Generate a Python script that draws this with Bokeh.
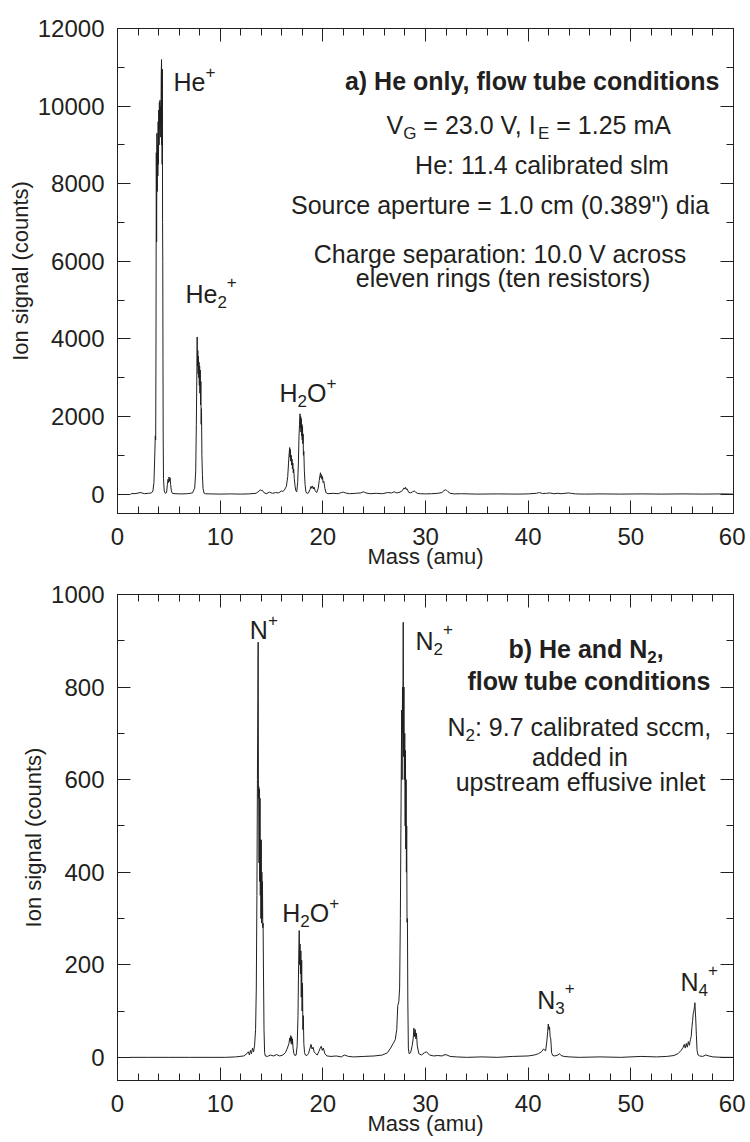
from bokeh.plotting import figure
from bokeh.models import (Range1d, LinearAxis, FixedTicker, Label,
                          ColumnDataSource, CustomJSTickFormatter)
from bokeh.layouts import column
from bokeh.embed import file_html
from bokeh.resources import INLINE

FONT = "Liberation Sans"
INK = "#231f20"

# ---------------- data ----------------
# panel a: He only
mass_a = [
    1.3, 1.8, 2.2, 2.4, 2.6, 3.0, 3.3, 3.45, 3.55, 3.62,
    3.68, 3.72, 3.75, 3.78, 3.81, 3.84, 3.87, 3.9, 3.93, 3.96,
    3.99, 4.02, 4.05, 4.08, 4.11, 4.14, 4.17, 4.2, 4.23, 4.26,
    4.29, 4.31, 4.33, 4.35, 4.37, 4.39, 4.41, 4.43, 4.45, 4.48,
    4.55, 4.65, 4.78, 4.86, 4.92, 4.97, 5.02, 5.07, 5.12, 5.17,
    5.25, 5.35, 5.6, 6.2, 6.8, 7.3, 7.52, 7.62, 7.68, 7.73,
    7.76, 7.79, 7.82, 7.85, 7.88, 7.91, 7.94, 7.97, 8.0, 8.03,
    8.06, 8.09, 8.12, 8.15, 8.18, 8.22, 8.27, 8.33, 8.42, 8.55,
    9.0, 10.0, 11.0, 12.0, 12.8, 13.5, 13.8, 13.9, 14.0, 14.1,
    14.25, 14.5, 14.8, 15.1, 15.4, 15.7, 15.95, 16.1, 16.25, 16.45,
    16.58, 16.66, 16.72, 16.77, 16.8, 16.84, 16.88, 16.92, 16.96, 17.0,
    17.04, 17.08, 17.12, 17.16, 17.22, 17.3, 17.38, 17.46, 17.55, 17.62,
    17.68, 17.73, 17.78, 17.81, 17.84, 17.87, 17.9, 17.93, 17.96, 17.99,
    18.02, 18.05, 18.08, 18.11, 18.15, 18.2, 18.27, 18.35, 18.45, 18.6,
    18.75, 18.85, 18.92, 19.0, 19.08, 19.15, 19.25, 19.4, 19.55, 19.65,
    19.72, 19.77, 19.82, 19.87, 19.92, 19.97, 20.02, 20.1, 20.2, 20.3,
    20.5, 21.0, 21.5, 21.8, 22.0, 22.2, 22.6, 23.2, 23.7, 23.95,
    24.2, 24.6, 25.2, 25.8, 26.3, 26.7, 26.95, 27.2, 27.5, 27.75,
    27.9, 27.98, 28.05, 28.12, 28.2, 28.35, 28.55, 28.75, 28.9, 29.05,
    29.2, 29.5, 30.0, 30.6, 31.2, 31.6, 31.8, 31.95, 32.05, 32.2,
    32.4, 32.8, 33.5, 35.0, 37.0, 39.0, 40.0, 40.8, 41.1, 41.4,
    41.8, 42.1, 42.5, 42.9, 43.2, 43.6, 43.9, 44.2, 44.6, 45.5,
    47.0, 49.0, 51.0, 53.0, 55.0, 57.0, 59.0, 60.0,
]
counts_a = [
    10, 15, 40, 30, 10, 20, 30, 80, 300, 900,
    1500, 1400, 4000, 8800, 6500, 9300, 7800, 9000, 8200, 9600,
    8500, 9900, 9000, 10100, 9400, 10150, 9200, 10000, 9500, 10800,
    11200, 9000, 10900, 8500, 10950, 7000, 6000, 3500, 1500, 400,
    80, 20, 40, 250, 380, 300, 440, 330, 420, 250,
    80, 20, 10, 5, 10, 30, 150, 600, 1800, 3200,
    4050, 3300, 3700, 3100, 3550, 3000, 3400, 2800, 3300, 2600,
    3200, 2300, 2900, 1800, 2200, 1000, 500, 150, 30, 10,
    5, 0, 5, 0, 5, 20, 80, 110, 90, 100,
    40, 10, 50, 20, 40, 30, 80, 70, 100, 200,
    450, 800, 1050, 1200, 950, 1150, 850, 1000, 750, 900,
    650, 800, 550, 650, 400, 200, 80, 60, 300, 800,
    1500, 1800, 2070, 1700, 2000, 1600, 1950, 1500, 1800, 1400,
    1750, 1300, 1550, 1000, 1100, 600, 250, 60, 20, 30,
    120, 200, 150, 210, 130, 180, 90, 40, 150, 350,
    480, 550, 420, 500, 380, 450, 300, 330, 150, 40,
    10, 20, 10, 40, 50, 30, 10, 20, 30, 60,
    30, 10, 20, 10, 40, 30, 60, 30, 50, 90,
    160, 130, 175, 120, 140, 50, 30, 60, 80, 50,
    20, 10, 5, 10, 20, 40, 90, 110, 100, 60,
    20, 5, 10, 0, 5, 0, 5, 20, 40, 15,
    20, 30, 10, 20, 10, 20, 30, 20, 5, 0,
    5, 0, 5, 0, 5, 0, 5, 0,
]

# panel b: He and N2
mass_b = [
    1.2, 3.0, 5.0, 7.0, 9.0, 10.5, 11.5, 12.3, 12.6, 12.75,
    12.85, 12.95, 13.05, 13.15, 13.25, 13.35, 13.45, 13.52, 13.58, 13.63,
    13.67, 13.7, 13.73, 13.76, 13.79, 13.82, 13.85, 13.88, 13.91, 13.94,
    13.97, 14.0, 14.03, 14.06, 14.09, 14.12, 14.15, 14.18, 14.22, 14.27,
    14.33, 14.4, 14.6, 14.9, 15.2, 15.5, 15.8, 16.1, 16.35, 16.55,
    16.7, 16.78, 16.84, 16.88, 16.92, 16.96, 17.0, 17.04, 17.1, 17.18,
    17.28, 17.4, 17.5, 17.58, 17.64, 17.7, 17.74, 17.78, 17.82, 17.86,
    17.9, 17.94, 17.98, 18.02, 18.06, 18.1, 18.15, 18.22, 18.3, 18.45,
    18.6, 18.75, 18.85, 18.95, 19.05, 19.15, 19.3, 19.45, 19.6, 19.75,
    19.85, 19.95, 20.05, 20.2, 20.4, 20.8, 21.3, 21.8, 22.1, 22.5,
    23.0, 24.0, 25.0, 25.8, 26.3, 26.6, 26.85, 27.05, 27.2, 27.3,
    27.4, 27.48, 27.55, 27.62, 27.68, 27.72, 27.76, 27.8, 27.83, 27.86,
    27.9, 27.94, 27.98, 28.02, 28.05, 28.08, 28.11, 28.14, 28.17, 28.2,
    28.24, 28.28, 28.33, 28.4, 28.55, 28.7, 28.8, 28.87, 28.93, 29.0,
    29.06, 29.12, 29.2, 29.35, 29.6, 29.9, 30.1, 30.4, 30.8, 31.2,
    31.6, 31.9, 32.1, 32.4, 33.0, 34.0, 35.5, 37.0, 38.5, 40.0,
    40.6, 41.0, 41.3, 41.5, 41.7, 41.82, 41.9, 41.96, 42.02, 42.08,
    42.14, 42.2, 42.28, 42.4, 42.6, 42.9, 43.05, 43.2, 43.5, 44.0,
    45.0, 47.0, 49.0, 51.0, 52.5, 53.5, 54.2, 54.6, 54.9, 55.1,
    55.2, 55.3, 55.4, 55.5, 55.6, 55.7, 55.8, 55.88, 55.95, 56.02,
    56.08, 56.14, 56.2, 56.24, 56.28, 56.32, 56.38, 56.45, 56.55, 56.7,
    57.0, 57.3, 57.6, 58.0, 59.0, 60.0,
]
counts_b = [
    0, 0, 0, 0, 0, 0, 1, 3, 8, 12,
    5, 15, 8, 20, 12, 25, 60, 150, 350, 600,
    780, 897, 560, 585, 420, 580, 380, 560, 350, 470,
    300, 470, 290, 400, 300, 380, 280, 290, 180, 60,
    10, 3, 2, 5, 3, 6, 3, 5, 10, 20,
    30, 42, 35, 47, 30, 44, 28, 40, 20, 8,
    4, 5, 25, 90, 200, 274, 200, 245, 180, 230,
    130, 210, 100, 160, 60, 90, 30, 10, 5, 4,
    8, 20, 28, 18, 22, 12, 8, 5, 12, 20,
    24, 15, 20, 8, 3, 2, 3, 1, 5, 2,
    1, 2, 3, 5, 10, 20, 30, 38, 60, 112,
    120, 150, 300, 550, 750, 600, 800, 700, 940, 650,
    800, 600, 700, 500, 663, 450, 600, 400, 500, 292,
    300, 120, 20, 8, 10, 25, 40, 63, 45, 60,
    40, 52, 25, 8, 5, 10, 12, 5, 3, 4,
    3, 6, 5, 2, 1, 0, 1, 0, 2, 3,
    5, 8, 12, 18, 14, 35, 55, 72, 60, 66,
    45, 40, 10, 4, 3, 5, 8, 4, 2, 1,
    0, 1, 0, 2, 1, 2, 4, 8, 15, 22,
    28, 20, 30, 22, 34, 26, 38, 45, 65, 80,
    95, 100, 110, 118, 100, 85, 50, 15, 5, 3,
    2, 5, 3, 1, 0, 0,
]

x_ticks = [0, 10, 20, 30, 40, 50, 60]
x_minor = list(range(0, 61, 2))
ya_ticks = [0, 2000, 4000, 6000, 8000, 10000, 12000]
ya_minor = list(range(0, 12001, 1000))
yb_ticks = [0, 200, 400, 600, 800, 1000]
yb_minor = list(range(0, 1001, 100))

X_TITLE = "Mass (amu)"
Y_TITLE = "Ion signal (counts)"

# ---------------- text metrics (Arial / Liberation Sans) ----------------
W_REG = {' ': 278, '!': 278, '"': 355, '(': 333, ')': 333, '+': 584, ',': 278,
         '-': 333, '.': 278, ':': 278, '=': 584, 'A': 667, 'C': 722, 'E': 667,
         'G': 778, 'H': 722, 'I': 278, 'N': 722, 'O': 778, 'S': 667, 'V': 667,
         'a': 556, 'b': 556, 'c': 500, 'd': 556, 'e': 556, 'f': 278, 'g': 556,
         'h': 556, 'i': 222, 'l': 222, 'm': 833, 'n': 556, 'o': 556, 'p': 556,
         'r': 333, 's': 500, 't': 278, 'u': 556, 'v': 500, 'w': 722, 'y': 500}
W_BOLD = {' ': 278, ')': 333, ',': 278, 'H': 722, 'N': 722, 'a': 556, 'b': 611,
          'd': 611, 'e': 556, 'n': 611}


def tw(s, size, bold=False):
    t = W_BOLD if bold else W_REG
    return sum(t.get(ch, 556) for ch in s) * size / 1000.0


BIG = 25
SMALL = 17


def label(p, x, y, text, align="left", bold=False, size=BIG):
    p.add_layout(Label(x=x, y=y, text=text, text_font=FONT,
                       text_font_size=f"{size}px",
                       text_font_style="bold" if bold else "normal",
                       text_color=INK, text_align=align,
                       text_baseline="alphabetic"))


def rich(p, x, y, parts, bold=False):
    off = 0.0
    prev = "n"
    for t, kind in parts:
        fs = BIG if kind == "n" else SMALL
        if kind == "n":
            dy = 0
        elif kind == "sub":
            dy = -8
        else:
            dy = 12 if prev == "sub" else 10
        lead = len(t) - len(t.lstrip(" "))
        off += tw(" " * lead, fs, bold)
        txt = t.lstrip(" ")
        p.add_layout(Label(x=x, y=y, x_offset=off, y_offset=dy, text=txt,
                           text_font=FONT, text_font_size=f"{fs}px",
                           text_font_style="bold" if bold else "normal",
                           text_color=INK, text_align="left",
                           text_baseline="alphabetic"))
        off += tw(txt, fs, bold)
        prev = kind


BLANK = CustomJSTickFormatter(code="return '';")


def style_axis(ax, ticks, minor, show, standoff):
    ax.ticker = FixedTicker(ticks=ticks, minor_ticks=minor)
    ax.major_tick_in = 13
    ax.major_tick_out = 0
    ax.minor_tick_in = 7
    ax.minor_tick_out = 0
    ax.axis_line_color = INK
    ax.major_tick_line_color = INK
    ax.minor_tick_line_color = INK
    ax.axis_line_width = 1
    ax.major_tick_line_width = 1
    ax.minor_tick_line_width = 1
    ax.major_label_text_font = FONT
    ax.major_label_text_color = INK
    if show:
        ax.major_label_text_font_size = "24px"
        ax.major_label_standoff = standoff
    else:
        ax.formatter = BLANK
        ax.major_label_text_font_size = "10px"
        ax.major_label_standoff = 0
    ax.axis_label_text_font = FONT
    ax.axis_label_text_font_size = "22px"
    ax.axis_label_text_font_style = "normal"
    ax.axis_label_text_color = INK


def make_fig(ymin, ymax, yt, ym, fh, top, bottom, xlab_standoff):
    p = figure(frame_width=616, frame_height=fh,
               x_range=Range1d(0, 60), y_range=Range1d(ymin, ymax),
               output_backend="svg", toolbar_location=None,
               min_border_left=117, min_border_right=12,
               min_border_top=top, min_border_bottom=bottom,
               x_axis_label=X_TITLE, y_axis_label=Y_TITLE)
    p.xgrid.grid_line_color = None
    p.ygrid.grid_line_color = None
    p.outline_line_color = INK
    p.outline_line_width = 1
    p.background_fill_color = "white"
    p.border_fill_color = "white"
    style_axis(p.xaxis[0], x_ticks, x_minor, True, 14)
    p.xaxis[0].axis_label_standoff = xlab_standoff
    style_axis(p.yaxis[0], yt, ym, True, 13)
    p.yaxis[0].axis_label_standoff = 2
    ra = LinearAxis()
    style_axis(ra, yt, ym, False, 0)
    p.add_layout(ra, "right")
    ta = LinearAxis()
    style_axis(ta, x_ticks, x_minor, False, 0)
    p.add_layout(ta, "above")
    return p


# ---------------- panel a ----------------
p1 = make_fig(-500, 12000, ya_ticks, ya_minor, 485, 28, 60, -4)
src_a = ColumnDataSource(data=dict(x=mass_a, y=counts_a))
p1.line("x", "y", source=src_a, line_color=INK, line_width=1)

rich(p1, 5.45, 10610, [("He", "n"), ("+", "sup")])
rich(p1, 6.62, 5151, [("He", "n"), ("2", "sub"), ("+", "sup")])
rich(p1, 15.78, 2601, [("H", "n"), ("2", "sub"), ("O", "n"), ("+", "sup")])
label(p1, 58.63, 10636, "a) He only, flow tube conditions", align="right", bold=True)
rich(p1, 26.2, 9503, [("V", "n"), ("G", "sub"), (" = 23.0 V, I", "n"),
                      ("E", "sub"), (" = 1.25 mA", "n")])
label(p1, 41.35, 8473, "He: 11.4 calibrated slm", align="center")
label(p1, 37.26, 7443, "Source aperture = 1.0 cm (0.389\") dia", align="center")
label(p1, 37.26, 6181, "Charge separation: 10.0 V across", align="center")
label(p1, 37.55, 5563, "eleven rings (ten resistors)", align="center")

# ---------------- panel b ----------------
p2 = make_fig(-50, 1000, yb_ticks, yb_minor, 486, 21, 60, -4)
src_b = ColumnDataSource(data=dict(x=mass_b, y=counts_b))
p2.line("x", "y", source=src_b, line_color=INK, line_width=1)

rich(p2, 12.89, 924, [("N", "n"), ("+", "sup")])
rich(p2, 29.03, 900, [("N", "n"), ("2", "sub"), ("+", "sup")])
rich(p2, 38.08, 883, [("b) He and N", "n"), ("2", "sub"), (",", "n")], bold=True)
label(p2, 57.76, 814, "flow tube conditions", align="right", bold=True)
rich(p2, 32.14, 713, [("N", "n"), ("2", "sub"), (": 9.7 calibrated sccm,", "n")])
label(p2, 45.05, 648, "added in", align="center")
label(p2, 45.1, 594, "upstream effusive inlet", align="center")
rich(p2, 16.04, 311, [("H", "n"), ("2", "sub"), ("O", "n"), ("+", "sup")])
rich(p2, 40.88, 123, [("N", "n"), ("3", "sub"), ("+", "sup")])
rich(p2, 54.83, 163, [("N", "n"), ("4", "sub"), ("+", "sup")])

layout = column(p1, p2, spacing=0)
open("out.html", "w").write(file_html(layout, INLINE))
